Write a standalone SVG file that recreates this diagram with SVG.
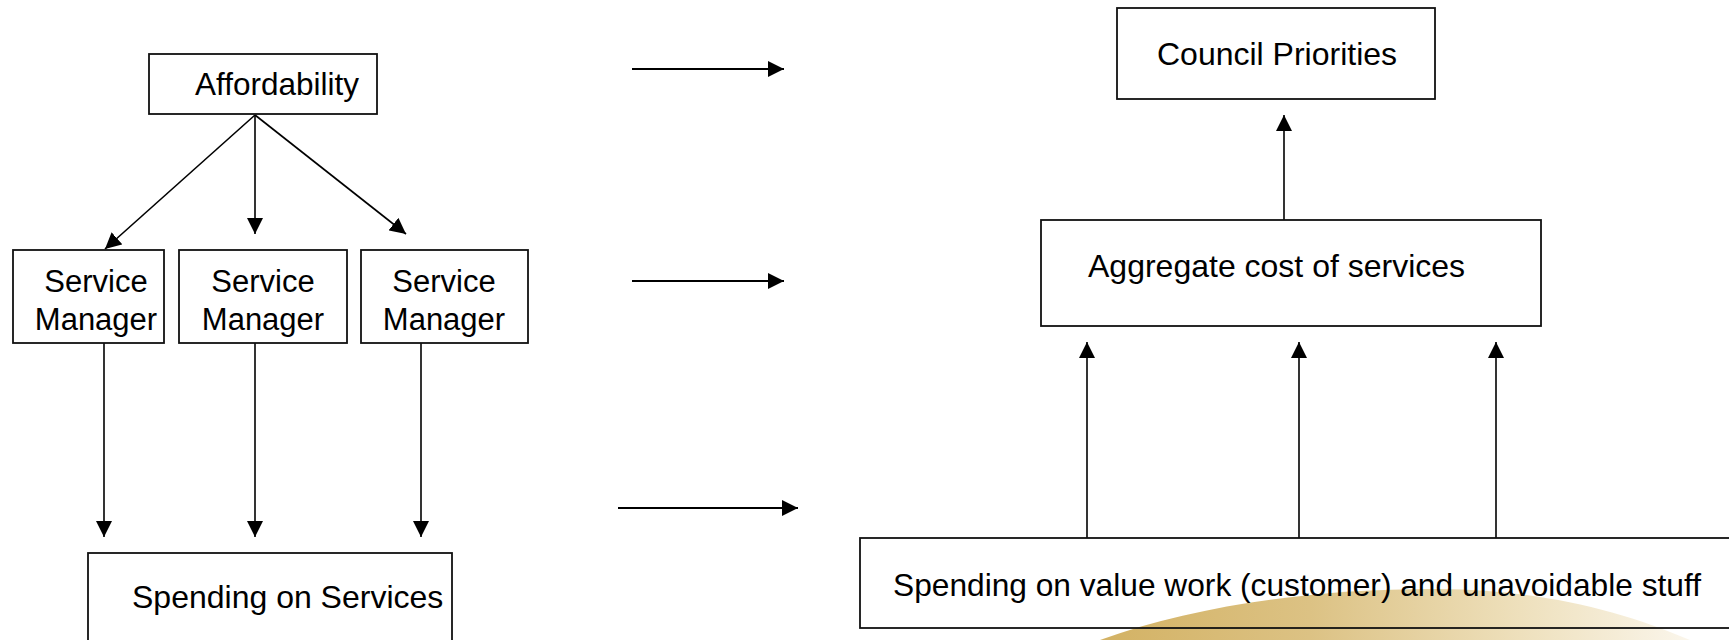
<svg xmlns="http://www.w3.org/2000/svg" width="1729" height="640" viewBox="0 0 1729 640">
  <style>
    .box { fill: none; stroke: #111; stroke-width: 1.8; }
    .lbl { font-family: "Liberation Sans", Arial, sans-serif; font-size: 32px; fill: #000; }
    .sm { font-size: 31px; }
    .con { fill: none; stroke: #000; stroke-width: 1.6; marker-end: url(#ah); }
    .thick { stroke-width: 2.2; }
  </style>
  <defs>
    <marker id="ah" viewBox="0 0 16 16" refX="16" refY="8" markerWidth="16" markerHeight="16" markerUnits="userSpaceOnUse" orient="auto">
      <path d="M0,0 L16,8 L0,16 z" fill="#000"/>
    </marker>
    <linearGradient id="gold" x1="1100" y1="0" x2="1700" y2="0" gradientUnits="userSpaceOnUse">
      <stop offset="0" stop-color="#D3B264"/>
      <stop offset="0.35" stop-color="#DCC284"/>
      <stop offset="0.7" stop-color="#EEE0BC"/>
      <stop offset="1" stop-color="#FBF7EE"/>
    </linearGradient>
  </defs>
  <rect x="0" y="0" width="1729" height="640" fill="#fff"/>
  <g id="swoosh">
    <path d="M1100,640 C1200,603 1330,588 1440,589 C1540,590 1620,610 1690,640 Z" fill="url(#gold)"/>
  </g>
  <g id="connectors">
    <path class="con" d="M255,115 L105,249"/>
    <path class="con" d="M255,115 L255,234"/>
    <path class="con" d="M255,115 L406,234"/>
    <path class="con" d="M104,343 L104,537"/>
    <path class="con" d="M255,343 L255,537"/>
    <path class="con" d="M421,343 L421,537"/>
    <path class="con thick" d="M632,69 L784,69"/>
    <path class="con thick" d="M632,281 L784,281"/>
    <path class="con thick" d="M618,508 L798,508"/>
    <path class="con" d="M1284,220 L1284,115"/>
    <path class="con" d="M1087,538 L1087,342"/>
    <path class="con" d="M1299,538 L1299,342"/>
    <path class="con" d="M1496,538 L1496,342"/>
  </g>
  <g id="affordability">
    <rect class="box" x="149" y="54" width="228" height="60"/>
    <text class="lbl" x="195" y="95" style="font-size:31.5px">Affordability</text>
  </g>
  <g id="sm1">
    <rect class="box" x="13" y="250" width="151" height="93"/>
    <text class="lbl sm" x="96" y="292" text-anchor="middle">Service</text>
    <text class="lbl sm" x="96" y="330" text-anchor="middle">Manager</text>
  </g>
  <g id="sm2">
    <rect class="box" x="179" y="250" width="168" height="93"/>
    <text class="lbl sm" x="263" y="292" text-anchor="middle">Service</text>
    <text class="lbl sm" x="263" y="330" text-anchor="middle">Manager</text>
  </g>
  <g id="sm3">
    <rect class="box" x="361" y="250" width="167" height="93"/>
    <text class="lbl sm" x="444" y="292" text-anchor="middle">Service</text>
    <text class="lbl sm" x="444" y="330" text-anchor="middle">Manager</text>
  </g>
  <g id="spending-services">
    <rect class="box" x="88" y="553" width="364" height="110"/>
    <text class="lbl" x="132" y="608">Spending on Services</text>
  </g>
  <g id="council-priorities">
    <rect class="box" x="1117" y="8" width="318" height="91"/>
    <text class="lbl" x="1157" y="65">Council Priorities</text>
  </g>
  <g id="aggregate">
    <rect class="box" x="1041" y="220" width="500" height="106"/>
    <text class="lbl" x="1088" y="277">Aggregate cost of services</text>
  </g>
  <g id="spending-value">
    <rect class="box" x="860" y="538" width="900" height="90"/>
    <text class="lbl" x="893" y="596" style="font-size:31.7px">Spending on value work (customer) and unavoidable stuff</text>
  </g>
</svg>
